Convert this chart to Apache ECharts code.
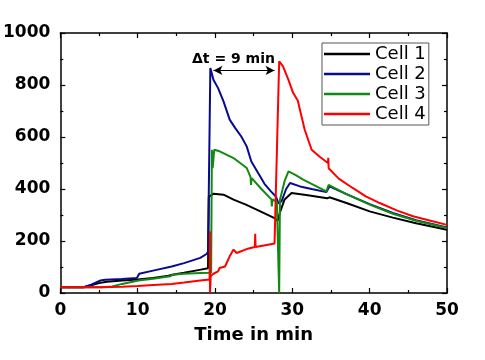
<!DOCTYPE html>
<html>
<head>
<meta charset="utf-8">
<script src="https://cdn.jsdelivr.net/npm/echarts@6/dist/echarts.min.js"></script>
<style>html,body{margin:0;padding:0;background:#fff;}#main{width:485px;height:360px;}</style>
</head>
<body>
<div id="main"></div>
<script>
var seriesNames = ['Cell 1', 'Cell 2', 'Cell 3', 'Cell 4'];
var xTicks = [0, 10, 20, 30, 40, 50];
var yTicks = [0, 200, 400, 600, 800, 1000];

var cell1 = [[0,22],[3,22],[4,30],[5,38],[6,43],[8,48],[10,52],[12,58],[14,66],[14.5,70],[16,78],[18,89],[19.1,95],[19.2,370],[19.8,382],[21.1,378],[22.4,359],[24,340],[26,312],[27.7,288],[28.1,278],[28.4,310],[29,360],[29.9,385],[32,376],[34.5,364],[34.6,358],[34.8,368],[37,346],[40,314],[43,290],[46,268],[50,243]];
var cell2 = [[0,22],[3,22],[4,32],[5.2,48],[5.8,51],[8,54],[9.9,58],[10.2,74],[12,86],[14.4,102],[16,115],[18.1,135],[18.9,150],[19.1,158],[19.4,865],[19.8,820],[20.4,788],[21.1,737],[21.9,667],[22.6,635],[23.4,602],[24.1,564],[24.7,506],[25.6,461],[26.4,420],[27.2,392],[27.9,370],[28.2,345],[28.6,352],[29.2,400],[29.7,423],[31,410],[32.5,400],[34.4,388],[34.6,383],[34.8,410],[37,380],[40,342],[43,308],[46,280],[50,252]];
var cell3 = [[0,22],[3,22],[5.5,22],[6.7,25],[8,35],[10.1,48],[12,55],[14.2,64],[14.5,70],[16,74],[18.1,77],[19.5,78],[19.6,551],[19.7,480],[19.9,551],[20.6,545],[22.4,519],[24.1,481],[24.6,446],[24.65,416],[24.75,442],[26.0,400],[27.3,360],[27.35,333],[27.45,360],[28.0,350],[28.2,345],[28.3,0],[28.4,359],[29,430],[29.5,468],[30.5,452],[31.4,436],[34.4,391],[34.6,390],[34.7,416],[37,380],[40,340],[43,305],[46,278],[50,250]];
var cell4 = [[0,22],[5,22],[8,24],[10,27],[12,31],[14.4,35],[16,40],[18.1,48],[19.3,52],[19.35,237],[19.36,0],[19.45,65],[19.8,74],[20.4,83],[20.6,96],[21.3,102],[21.9,141],[22.4,167],[22.8,154],[24.1,169],[25.15,177],[25.2,228],[25.25,177],[26.5,184],[27.7,190],[27.95,192],[28.3,891],[28.8,872],[29.5,820],[30.1,770],[30.7,740],[31.6,628],[32.5,551],[33.5,525],[34.6,500],[34.65,520],[34.7,480],[36,440],[37.8,404],[39.5,372],[41.3,346],[43.5,318],[45.6,295],[48,277],[50,262]];
var arrowEnds = [[19.8, 856], [27.7, 856]];
var annotationText = '\u0394t = 9 min';

var colors = ['#000000', '#0a0a8c', '#128a12', '#ff0000'];
var datasets = [cell1, cell2, cell3, cell4];

var labelFont = {fontFamily: 'DejaVu Sans', fontWeight: 'bold', fontSize: 17, color: '#000', formatter: function (v) { return String(v); }};
function axisBase(extra) {
  var a = {
    type: 'value',
    axisLine: {show: true, onZero: false, lineStyle: {color: '#000', width: 1.5}},
    axisTick: {show: true, inside: true, length: 5, lineStyle: {color: '#000', width: 1.2}},
    minorTick: {show: true, splitNumber: 2, length: 3, lineStyle: {color: '#000', width: 1.2}},
    splitLine: {show: false},
    minorSplitLine: {show: false}
  };
  for (var k in extra) a[k] = extra[k];
  return a;
}

var series = datasets.map(function (d, i) {
  var s = {
    name: seriesNames[i],
    type: 'line',
    data: d,
    symbol: 'none',
    lineStyle: {color: colors[i], width: 2},
    itemStyle: {color: colors[i]},
    animation: false,
    z: 2 + i
  };
  if (i === 0) {
    s.markLine = {
      silent: true,
      symbol: ['arrow', 'arrow'],
      symbolSize: [7, 9],
      label: {show: false},
      lineStyle: {color: '#000', width: 1.2, type: 'solid'},
      data: [[{coord: arrowEnds[0]}, {coord: arrowEnds[1]}]],
      animation: false
    };
  }
  return s;
});

var chart = echarts.init(document.getElementById('main'));
chart.setOption({
  animation: false,
  backgroundColor: '#fff',
  textStyle: {fontFamily: 'DejaVu Sans'},
  grid: {left: 60, right: 38, top: 33, bottom: 67, containLabel: false},
  legend: {
    data: seriesNames,
    orient: 'vertical',
    left: 322, top: 43,
    borderColor: '#555', borderWidth: 1,
    padding: [2, 3, 2, 2],
    itemGap: 2,
    icon: 'rect',
    itemWidth: 46,
    itemHeight: 2.5,
    textStyle: {fontFamily: 'DejaVu Sans', fontSize: 18, color: '#000', lineHeight: 18}
  },
  xAxis: [
    axisBase({min: xTicks[0], max: xTicks[xTicks.length - 1], interval: 10, position: 'bottom',
      axisLabel: Object.assign({margin: 9}, labelFont),
      name: 'Time in min', nameLocation: 'middle', nameGap: 33,
      nameTextStyle: {fontFamily: 'DejaVu Sans', fontWeight: 'bold', fontSize: 18, color: '#000'}}),
    axisBase({min: xTicks[0], max: xTicks[xTicks.length - 1], interval: 10, position: 'top', axisLabel: {show: false}})
  ],
  yAxis: [
    axisBase({min: yTicks[0], max: yTicks[yTicks.length - 1], interval: 200, position: 'left',
      axisLabel: Object.assign({margin: 10}, labelFont)}),
    axisBase({min: yTicks[0], max: yTicks[yTicks.length - 1], interval: 200, position: 'right', axisLabel: {show: false}})
  ],
  graphic: [{
    type: 'text', left: 192, top: 52,
    style: {text: annotationText, font: 'bold 14px "DejaVu Sans"', fill: '#000'}
  }],
  series: series
});
</script>
</body>
</html>
